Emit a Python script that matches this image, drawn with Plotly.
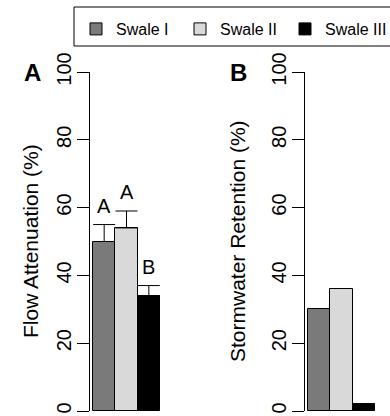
import plotly.graph_objects as go

# ---- data ----
swales = ["Swale I", "Swale II", "Swale III"]
flow_attenuation = [50, 54, 34]
flow_error = [5, 5, 3]
flow_letters = ["A", "A", "B"]
stormwater_retention = [30, 36, 2]
y_ticks = [0, 20, 40, 60, 80, 100]

colors = ["#7a7a7a", "#d9d9d9", "#000000"]
legend_widths = [59, 60, 64]   # px per legend entry text area
FONT = "Liberation Sans, Arial, Helvetica, sans-serif"

W, H = 390, 416
y0_px, y100_px = 411, 72        # pixel rows of 0 and 100
bar_w = 67 / 3                   # pixel width of one bar

def xdom(px_left, px_right):
    return [px_left / W, px_right / W]

def xrange_for(axis_px, bars_left_px, dom_right_px):
    left = -0.5 - (bars_left_px - axis_px) / bar_w
    return [left, left + (dom_right_px - axis_px) / bar_w]

fig = go.Figure()

for i, name in enumerate(swales):
    fig.add_trace(go.Bar(
        x=[name], y=[flow_attenuation[i]], name=name, legendgroup=name,
        legendwidth=legend_widths[i],
        marker=dict(color=colors[i], line=dict(color="black", width=1)),
        width=1,
        error_y=dict(type="data", array=[flow_error[i]], arrayminus=[0],
                     symmetric=False, color="black", thickness=1, width=11),
        xaxis="x", yaxis="y", showlegend=True,
    ))
for i, name in enumerate(swales):
    fig.add_trace(go.Bar(
        x=[name], y=[stormwater_retention[i]], name=name, legendgroup=name,
        marker=dict(color=colors[i], line=dict(color="black", width=1)),
        width=1, xaxis="x2", yaxis="y2", showlegend=False,
    ))

ydom = [(H - y0_px) / H, (H - y100_px) / H]
yaxis_common = dict(
    range=[0, 100], domain=ydom, tickvals=y_ticks, ticks="outside", ticklen=12,
    tickwidth=1, tickcolor="black", showline=True, linecolor="black", linewidth=1,
    showgrid=False, zeroline=False, tickangle=-90, automargin=False,
    ticklabelstandoff=-2,
    tickfont=dict(family=FONT, size=20, color="black"),
)
xaxis_common = dict(visible=False, showgrid=False, zeroline=False, automargin=False,
                    type="category", categoryorder="array", categoryarray=swales)

annotations = []
# significance letters
for i, name in enumerate(swales):
    annotations.append(dict(
        x=name, y=flow_attenuation[i] + flow_error[i], xref="x", yref="y",
        text=flow_letters[i], showarrow=False, yanchor="middle", yshift=19,
        font=dict(family=FONT, size=20, color="black"),
    ))
# panel labels
annotations.append(dict(x=32 / W, y=1 - 72 / H, xref="paper", yref="paper",
                        text="<b>A</b>", showarrow=False, xanchor="center", yanchor="middle",
                        font=dict(family=FONT, size=24, color="black")))
annotations.append(dict(x=238 / W, y=1 - 72 / H, xref="paper", yref="paper",
                        text="<b>B</b>", showarrow=False, xanchor="center", yanchor="middle",
                        font=dict(family=FONT, size=24, color="black")))
# axis titles
annotations.append(dict(x=30 / W, y=1 - 241 / H, xref="paper", yref="paper",
                        text="Flow Attenuation (%)", textangle=-90, showarrow=False,
                        xanchor="center", yanchor="middle",
                        font=dict(family=FONT, size=21, color="black")))
annotations.append(dict(x=237 / W, y=1 - 241 / H, xref="paper", yref="paper",
                        text="Stormwater Retention (%)", textangle=-90, showarrow=False,
                        xanchor="center", yanchor="middle",
                        font=dict(family=FONT, size=21, color="black")))

fig.update_layout(
    width=W, height=H, margin=dict(l=0, r=0, t=0, b=0, autoexpand=False),
    paper_bgcolor="white", plot_bgcolor="white",
    barmode="overlay", bargap=0,
    xaxis=dict(domain=xdom(90, 180), range=xrange_for(90, 93, 180), **xaxis_common),
    yaxis=dict(anchor="x", **yaxis_common),
    xaxis2=dict(domain=xdom(305, 390), range=xrange_for(305, 308, 390), **xaxis_common),
    yaxis2=dict(anchor="x2", **yaxis_common),
    showlegend=True,
    legend=dict(orientation="h", x=76 / W, y=1 - 12 / H, xanchor="left", yanchor="top",
                bgcolor="rgba(0,0,0,0)", borderwidth=0,
                font=dict(family=FONT, size=16, color="black")),
    shapes=[dict(type="rect", xref="paper", yref="paper",
                 x0=74 / W, x1=1.05, y0=1 - 46 / H, y1=1 - 7 / H,
                 line=dict(color="black", width=1), fillcolor="rgba(0,0,0,0)")],
    annotations=annotations,
)

fig.write_html("out.html", config={"displayModeBar": False},
               post_script="document.body.style.margin='0';document.body.style.overflow='hidden';")
